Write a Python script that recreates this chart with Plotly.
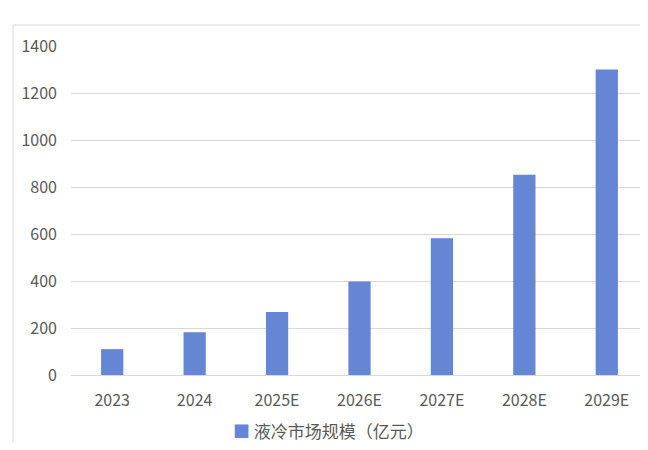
import plotly.graph_objects as go

categories = ["2023", "2024", "2025E", "2026E", "2027E", "2028E", "2029E"]
values = [110, 182, 268, 398, 582, 852, 1300]
series_name = "液冷市场规模（亿元）"
y_ticks = [0, 200, 400, 600, 800, 1000, 1200, 1400]
bar_color = "#6586d4"

font_family = "Noto Sans CJK SC, Noto Sans, sans-serif"

# page body has an 8px margin, so the figure is drawn 8px in from the window edge;
# keep the page within the window so no scrollbar appears
W, H = 640, 434
L, R, T, B = 63, 0, 38, 67
pw, ph = W - L - R, H - T - B

def px_x(p):
    return (p - L) / pw

def px_y(p):
    return (H - B - p) / ph

fig = go.Figure()
fig.add_trace(go.Bar(
    x=categories, y=values, name=series_name,
    marker=dict(color=bar_color, line=dict(width=0)),
    width=0.27,
    showlegend=False,
))

frame = dict(color="#d9d9d9", width=1)
fig.add_shape(type="line", xref="paper", yref="paper",
              x0=px_x(5), x1=px_x(640), y0=px_y(17), y1=px_y(17), line=frame, layer="below")
fig.add_shape(type="line", xref="paper", yref="paper",
              x0=px_x(5), x1=px_x(5), y0=px_y(17), y1=px_y(434), line=frame, layer="below")

fig.add_annotation(
    xref="paper", yref="paper", x=px_x(320), y=px_y(422),
    xanchor="center", yanchor="middle", showarrow=False,
    text=f'<span style="color:{bar_color}">■</span> {series_name}',
    font=dict(size=17, color="#595959", family=font_family),
)

fig.update_layout(
    width=W, height=H,
    margin=dict(l=L, r=R, t=T, b=B),
    paper_bgcolor="white", plot_bgcolor="white",
    font=dict(family=font_family, color="#595959", size=16),
    xaxis=dict(showgrid=False, showline=False, ticks="", ticklabelstandoff=14,
               tickfont=dict(size=16, color="#595959")),
    yaxis=dict(range=[0, 1400], tickvals=y_ticks, showgrid=True, gridcolor="#d9d9d9", gridwidth=1,
               zeroline=True, zerolinecolor="#d9d9d9", zerolinewidth=1,
               ticks="", ticklabelstandoff=13, tickfont=dict(size=16, color="#595959")),
    showlegend=False,
)

fig.write_html("out.html")
